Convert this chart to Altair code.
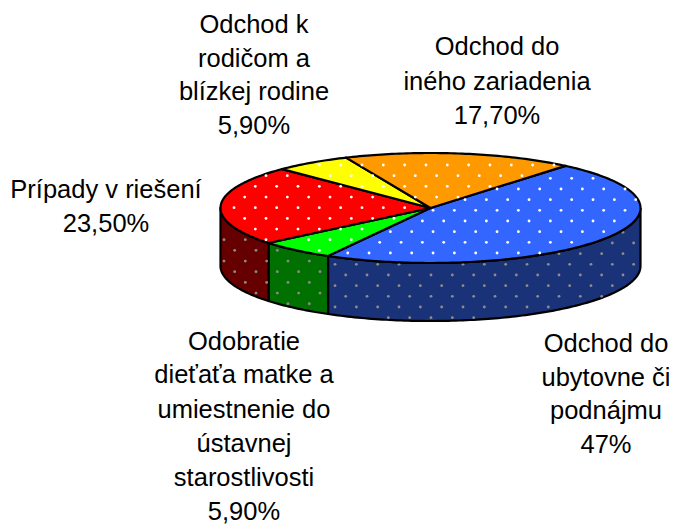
import math
import altair as alt
import pandas as pd

names = ["Odchod do ubytovne či podnájmu", "Odobratie dieťaťa", "Prípady v riešení", "Odchod k rodičom", "Odchod do iného zariadenia"]
shares = [47.0, 5.9, 23.5, 5.9, 17.7]
top_colors = ["#3366FF", "#00FF00", "#FF0000", "#FFFF00", "#FF9900"]
wall_colors = ["#1A3278", "#007000", "#660000", "#808000", "#804C00"]

label_lines = [
    ["Odchod k", "rodičom a", "blízkej rodine", "5,90%"],
    ["Odchod do", "iného zariadenia", "17,70%"],
    ["Prípady v riešení", "23,50%"],
    ["Odobratie", "dieťaťa matke a", "umiestnenie do", "ústavnej", "starostlivosti", "5,90%"],
    ["Odchod do", "ubytovne či", "podnájmu", "47%"],
]
label_x = [254, 497, 106, 244, 606]
label_y = [[33, 67, 100, 134], [55, 90, 124], [198, 232], [350, 383, 418, 452, 486, 520], [352, 386, 419, 453]]

# Picture geometry (tilted disc)
CX, CY, RX, RY, DEPTH = 430.5, 208.0, 210.0, 55.0, 58.0
START = 50.0
W, H = 661, 516
PITCH_X, PITCH_Y = 21.33, 10.67


def pt(t, dy=0.0):
    r = math.radians(t)
    return CX + RX * math.cos(r), CY - RY * math.sin(r) + dy


def in_poly(x, y, poly):
    inside = False
    n = len(poly)
    for a in range(n):
        x1, y1 = poly[a]
        x2, y2 = poly[(a + 1) % n]
        if (y1 > y) != (y2 > y) and x < x1 + (y - y1) * (x2 - x1) / (y2 - y1):
            inside = not inside
    return inside


def lattice(poly, x0, y0, margin=1.5):
    out = []
    for j in range(-40, 40):
        y = y0 + j * PITCH_Y
        off = PITCH_X / 2 if j % 2 else 0
        for k in range(-40, 40):
            x = x0 + off + k * PITCH_X
            if all(in_poly(x + a, y + b, poly) for a, b in ((margin, 0), (-margin, 0), (0, margin), (0, -margin))):
                out.append((x, y))
    return out


top_rows, wall_rows, top_dots, wall_dots = [], [], [], []
t = START
for s, (name, share) in enumerate(zip(names, shares)):
    span = share / 100 * 360
    t0, t1 = t, t - span
    steps = max(4, int(span))
    arc = [t0 + (t1 - t0) * q / steps for q in range(steps + 1)]
    poly = [(CX, CY)] + [pt(a) for a in arc]
    closed = poly + [poly[0]]
    for i, (x, y) in enumerate(closed):
        top_rows.append(dict(slice=name, i=i, x=x, y=y, c=top_colors[s]))
    lat = (571.7, 178.3) if s == 0 else (266.0, 175.7)
    top_dots += [dict(x=x, y=y) for x, y in lattice(poly, *lat)]

    # Side wall: only the part of the arc on the front half (angles -180..0)
    lo, hi = max(t1, -180.0), min(t0, 0.0)
    if lo < hi:
        n = max(3, int(hi - lo))
        wa = [hi + (lo - hi) * q / n for q in range(n + 1)]
        wp = [pt(a) for a in wa] + [pt(a, DEPTH) for a in reversed(wa)]
        for i, (x, y) in enumerate(wp + [wp[0]]):
            wall_rows.append(dict(slice=name, i=i, x=x, y=y, c=wall_colors[s]))
        lat = (345.7, 275.0) if s == 0 else (224.0, 239.7)
        wall_dots += [dict(x=x, y=y) for x, y in lattice(wp, *lat)]
    t = t1

x_enc = alt.X("x:Q", scale=alt.Scale(domain=[8, 8 + W], nice=False, zero=False), axis=None)
y_enc = alt.Y("y:Q", scale=alt.Scale(domain=[8 + H, 8], nice=False, zero=False), axis=None)


def polys(rows):
    return alt.Chart(pd.DataFrame(rows)).mark_line(
        filled=True, stroke="black", strokeWidth=2.2, strokeJoin="round", clip=False
    ).encode(
        x=x_enc, y=y_enc,
        fill=alt.Fill("c:N", scale=None),
        detail="slice:N",
        order=alt.Order("i:Q"),
    )


def dots(rows, colour):
    return alt.Chart(pd.DataFrame(rows)).mark_circle(size=8, color=colour, opacity=1).encode(x=x_enc, y=y_enc)


text_rows = []
for lines, lx, ys in zip(label_lines, label_x, label_y):
    for line, ly in zip(lines, ys):
        text_rows.append(dict(x=lx, y=ly, t=line))

texts = alt.Chart(pd.DataFrame(text_rows)).mark_text(
    font="Liberation Sans", fontSize=25.5, color="black", align="center", baseline="alphabetic"
).encode(x=x_enc, y=y_enc, text="t:N")

chart = alt.layer(
    polys(wall_rows), dots(wall_dots, "#8C8C8C"),
    polys(top_rows), dots(top_dots, "#FFFFFF"),
    texts,
).properties(width=W, height=H, padding=0, autosize=alt.AutoSizeParams(type="none")).configure_view(stroke=None)

chart.save("out.html", embed_options={"renderer": "svg", "actions": False})
